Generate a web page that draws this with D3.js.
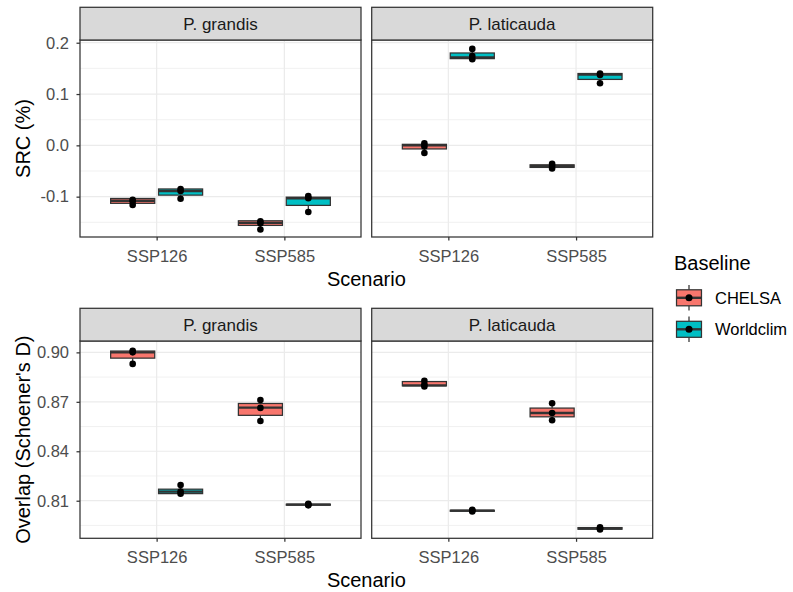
<!DOCTYPE html>
<html>
<head>
<meta charset="utf-8">
<script src="https://cdn.jsdelivr.net/npm/d3@7"></script>
<style>
  body { margin: 0; background: #fff; }
  svg text { font-family: "Liberation Sans", Arial, sans-serif; }
</style>
</head>
<body>
<svg id="chart"></svg>
<script>
// data
let scenarios = ["SSP126", "SSP585"];
let baselines = ["CHELSA", "Worldclim"];
let species = ["P. grandis", "P. laticauda"];
let fills = ["#F8766D", "#00BFC4"];

// order of boxes in every panel
let boxKeys = [["SSP126", "CHELSA"], ["SSP126", "Worldclim"], ["SSP585", "CHELSA"], ["SSP585", "Worldclim"]];

// [lower whisker, q1, median, q3, upper whisker]
let srcGrandisBox = [
  [-0.116, -0.113, -0.108, -0.1035, -0.1035],
  [-0.104, -0.097, -0.089, -0.085, -0.085],
  [-0.164, -0.156, -0.151, -0.147, -0.147],
  [-0.130, -0.117, -0.103, -0.101, -0.099]
];
let srcGrandisPts = [
  [-0.106, -0.109, -0.116],
  [-0.085, -0.089, -0.104],
  [-0.148, -0.152, -0.164],
  [-0.099, -0.103, -0.130]
];
let srcLaticaudaBox = [
  [-0.015, -0.007, 0.000, 0.002, 0.004],
  [0.168, 0.169, 0.1715, 0.180, 0.188],
  [-0.046, -0.043, -0.040, -0.038, -0.036],
  [0.121, 0.1285, 0.138, 0.140, 0.140]
];
let srcLaticaudaPts = [
  [0.004, -0.002, -0.015],
  [0.188, 0.174, 0.168],
  [-0.036, -0.040, -0.045],
  [0.140, 0.137, 0.121]
];
let overlapGrandisBox = [
  [0.893, 0.8965, 0.900, 0.9008, 0.901],
  [0.8143, 0.8143, 0.8155, 0.8170, 0.8195],
  [0.8584, 0.8618, 0.8665, 0.8690, 0.8711],
  [0.8072, 0.8073, 0.8076, 0.8079, 0.8082]
];
let overlapGrandisPts = [
  [0.901, 0.900, 0.893],
  [0.8195, 0.8155, 0.8143],
  [0.8711, 0.8663, 0.8584],
  [0.8082, 0.8076, 0.8072]
];
let overlapLaticaudaBox = [
  [0.8793, 0.8797, 0.8800, 0.8823, 0.8828],
  [0.8034, 0.8036, 0.8040, 0.8042, 0.8045],
  [0.8588, 0.8609, 0.8632, 0.8662, 0.8691],
  [0.7924, 0.7927, 0.7932, 0.7937, 0.7939]
];
let overlapLaticaudaPts = [
  [0.8828, 0.8805, 0.8793],
  [0.8045, 0.8040, 0.8035],
  [0.8691, 0.8632, 0.8588],
  [0.7939, 0.7932, 0.7925]
];

let srcTicks = [-0.1, 0.0, 0.1, 0.2];
let srcMinor = [-0.15, -0.05, 0.05, 0.15];
let overlapTicks = [0.81, 0.84, 0.87, 0.90];
let overlapMinor = [0.795, 0.825, 0.855, 0.885];

// layout
let width = 793;
let height = 592;
let svg = d3.select("#chart").attr("width", width).attr("height", height);

let tickFont = 16.5;
let stripFont = 17;
let titleFont = 20;

let cols = [[80, 361], [371.7, 652.7]];
let rows = [
  { stripTop: 7.3, top: 40, bottom: 237, domain: [-0.1786, 0.2053], ticks: srcTicks, minor: srcMinor,
    fmt: (d) => d.toFixed(1), title: "SRC (%)",
    boxes: [srcGrandisBox, srcLaticaudaBox], pts: [srcGrandisPts, srcLaticaudaPts] },
  { stripTop: 308.3, top: 341, bottom: 538.3, domain: [0.7872, 0.9069], ticks: overlapTicks, minor: overlapMinor,
    fmt: (d) => d.toFixed(2), title: "Overlap (Schoener's D)",
    boxes: [overlapGrandisBox, overlapLaticaudaBox], pts: [overlapGrandisPts, overlapLaticaudaPts] }
];

let dark = "#333333";
let grid = "#EBEBEB";
let lw = 1.25;

rows.forEach((row) => {
  let y = d3.scaleLinear().domain(row.domain).range([row.bottom, row.top]);

  cols.forEach((c, ci) => {
    let x = d3.scalePoint().domain(scenarios).range(c).padding(0.6);
    let step = x.step();
    let dodge = d3.scaleBand().domain(baselines)
      .range([-0.375 * step, 0.375 * step])
      .paddingInner(0.08).paddingOuter(0.04);

    let g = svg.append("g");

    // panel background
    g.append("rect").attr("x", c[0]).attr("y", row.top)
      .attr("width", c[1] - c[0]).attr("height", row.bottom - row.top)
      .attr("fill", "#fff");

    // grid
    g.selectAll(".minor").data(row.minor).enter().append("line")
      .attr("x1", c[0]).attr("x2", c[1])
      .attr("y1", (d) => y(d)).attr("y2", (d) => y(d))
      .attr("stroke", grid).attr("stroke-width", 0.7);
    g.selectAll(".major").data(row.ticks).enter().append("line")
      .attr("x1", c[0]).attr("x2", c[1])
      .attr("y1", (d) => y(d)).attr("y2", (d) => y(d))
      .attr("stroke", grid).attr("stroke-width", 1.2);
    g.selectAll(".vmajor").data(scenarios).enter().append("line")
      .attr("x1", (d) => x(d)).attr("x2", (d) => x(d))
      .attr("y1", row.top).attr("y2", row.bottom)
      .attr("stroke", grid).attr("stroke-width", 1.2);

    // boxes
    let boxes = row.boxes[ci];
    let pts = row.pts[ci];
    boxKeys.forEach((k, i) => {
      let s = boxes[i];
      let bx = x(k[0]) + dodge(k[1]);
      let bw = dodge.bandwidth();
      let cx = bx + bw / 2;
      let fill = fills[baselines.indexOf(k[1])];
      g.append("line").attr("x1", cx).attr("x2", cx)
        .attr("y1", y(s[0])).attr("y2", y(s[1]))
        .attr("stroke", dark).attr("stroke-width", lw);
      g.append("line").attr("x1", cx).attr("x2", cx)
        .attr("y1", y(s[3])).attr("y2", y(s[4]))
        .attr("stroke", dark).attr("stroke-width", lw);
      g.append("rect").attr("x", bx).attr("width", bw)
        .attr("y", y(s[3])).attr("height", Math.max(0.1, y(s[1]) - y(s[3])))
        .attr("fill", fill).attr("stroke", dark).attr("stroke-width", lw);
      g.append("line").attr("x1", bx).attr("x2", bx + bw)
        .attr("y1", y(s[2])).attr("y2", y(s[2]))
        .attr("stroke", dark).attr("stroke-width", 2.4);
      g.selectAll(null).data(pts[i]).enter().append("circle")
        .attr("cx", cx).attr("cy", (d) => y(d)).attr("r", 3.3)
        .attr("fill", "#000");
    });

    // panel border
    g.append("rect").attr("x", c[0]).attr("y", row.top)
      .attr("width", c[1] - c[0]).attr("height", row.bottom - row.top)
      .attr("fill", "none").attr("stroke", dark).attr("stroke-width", lw);

    // strip
    g.append("rect").attr("x", c[0]).attr("y", row.stripTop)
      .attr("width", c[1] - c[0]).attr("height", row.top - row.stripTop)
      .attr("fill", "#D9D9D9").attr("stroke", dark).attr("stroke-width", lw);
    g.append("text").attr("x", (c[0] + c[1]) / 2).attr("y", (row.stripTop + row.top) / 2)
      .attr("dy", "0.35em").attr("text-anchor", "middle")
      .attr("font-size", stripFont).attr("fill", "#1A1A1A")
      .text(species[ci]);

    // x axis
    let xAxis = d3.axisBottom(x).tickSize(3.5).tickPadding(9.5);
    let xg = g.append("g").attr("transform", "translate(0," + row.bottom + ")").call(xAxis);
    xg.select(".domain").remove();
    xg.selectAll("line").attr("stroke", dark).attr("stroke-width", lw);
    xg.selectAll("text").attr("font-size", tickFont).attr("fill", "#4D4D4D")
      .attr("font-family", "Liberation Sans, Arial, sans-serif");

    // y axis on left panel only
    if (ci === 0) {
      let yAxis = d3.axisLeft(y).tickValues(row.ticks).tickFormat(row.fmt)
        .tickSize(3.5).tickPadding(7.5);
      let yg = g.append("g").attr("transform", "translate(" + c[0] + ",0)").call(yAxis);
      yg.select(".domain").remove();
      yg.selectAll("line").attr("stroke", dark).attr("stroke-width", lw);
      yg.selectAll("text").attr("font-size", tickFont).attr("fill", "#4D4D4D")
        .attr("font-family", "Liberation Sans, Arial, sans-serif");
    }
  });

  // axis titles
  svg.append("text")
    .attr("transform", "translate(29.5," + (row.top + row.bottom) / 2 + ") rotate(-90)")
    .attr("text-anchor", "middle").attr("font-size", titleFont).attr("fill", "#000")
    .text(row.title);
  svg.append("text")
    .attr("x", (cols[0][0] + cols[1][1]) / 2).attr("y", row.bottom + 48.5)
    .attr("text-anchor", "middle").attr("font-size", titleFont).attr("fill", "#000")
    .text("Scenario");
});

// legend
let legend = svg.append("g");
legend.append("text").attr("x", 674).attr("y", 270)
  .attr("font-size", titleFont).attr("fill", "#000").text("Baseline");

let keySize = 32;
let keyY = d3.scalePoint().domain(baselines).range([297.8, 329.3]);
baselines.forEach((b, i) => {
  let cy = keyY(b);
  let kx = 689 - keySize / 2;
  let ky = cy - keySize / 2;
  let kg = legend.append("g");
  kg.append("line").attr("x1", 689).attr("x2", 689)
    .attr("y1", ky + 0.1 * keySize).attr("y2", ky + 0.25 * keySize)
    .attr("stroke", dark).attr("stroke-width", lw);
  kg.append("line").attr("x1", 689).attr("x2", 689)
    .attr("y1", ky + 0.75 * keySize).attr("y2", ky + 0.9 * keySize)
    .attr("stroke", dark).attr("stroke-width", lw);
  kg.append("rect").attr("x", kx + 0.11 * keySize).attr("width", 0.78 * keySize)
    .attr("y", ky + 0.25 * keySize).attr("height", 0.5 * keySize)
    .attr("fill", fills[i]).attr("stroke", dark).attr("stroke-width", lw);
  kg.append("line").attr("x1", kx + 0.11 * keySize).attr("x2", kx + 0.89 * keySize)
    .attr("y1", cy).attr("y2", cy)
    .attr("stroke", dark).attr("stroke-width", 2.4);
  kg.append("circle").attr("cx", 689).attr("cy", cy).attr("r", 3.5).attr("fill", "#000");
  legend.append("text").attr("x", 715).attr("y", cy).attr("dy", "0.35em")
    .attr("font-size", tickFont).attr("fill", "#000").text(b);
});
</script>
</body>
</html>
